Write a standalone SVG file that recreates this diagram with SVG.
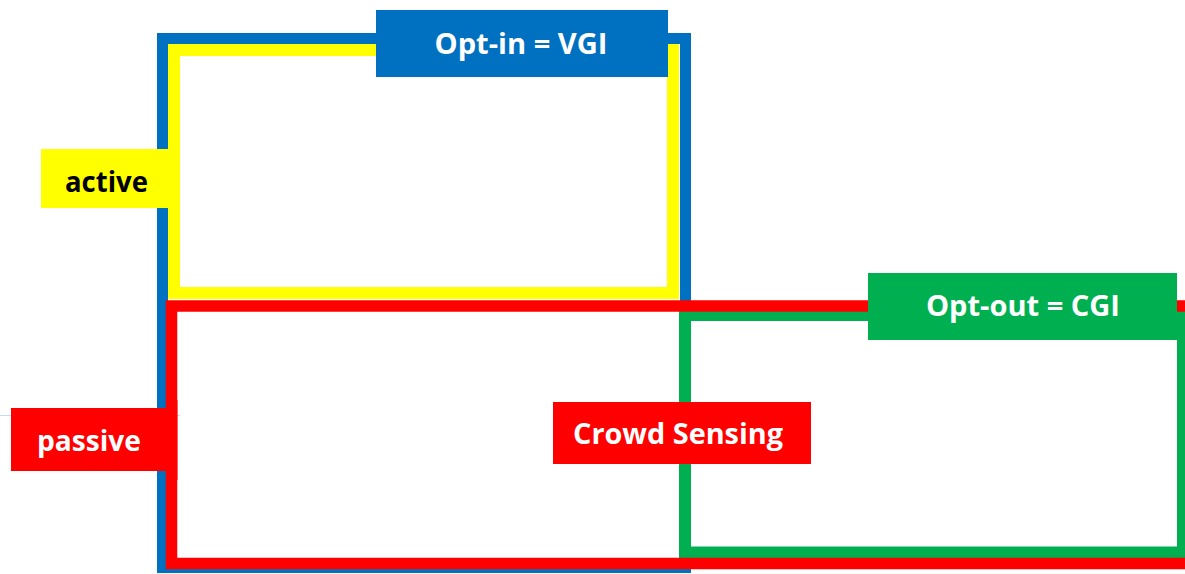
<svg xmlns="http://www.w3.org/2000/svg" width="1185" height="574" viewBox="0 0 1185 574">
  <style>
    .frame { fill: none; }
    .lbl { font-family: "Open Sans", "Liberation Sans", sans-serif; font-weight: bold; font-size: 28px; text-anchor: middle; }
    .w { fill: #FFFFFF; }
    .k { fill: #000000; }
  </style>
  <rect x="0" y="0" width="1185" height="574" fill="#FFFFFF"/>
  <line x1="0" y1="415.5" x2="180" y2="415.5" stroke="#C5DCF0" stroke-width="1"/>
  <g id="optin-frame">
    <rect class="frame" x="162.5" y="38.5" width="523" height="529" stroke="#0070C0" stroke-width="11"/>
  </g>
  <g id="active-frame">
    <rect class="frame" x="174" y="50" width="499" height="243" stroke="#FFFF00" stroke-width="12"/>
  </g>
  <g id="optout-frame">
    <rect class="frame" x="685" y="315" width="498" height="237.5" stroke="#00B050" stroke-width="12"/>
  </g>
  <g id="passive-frame">
    <rect class="frame" x="171.5" y="306" width="1030" height="257.5" stroke="#FF0000" stroke-width="11.5"/>
  </g>
  <g id="connectors"></g>
  <g id="optin-label">
    <rect x="376" y="10" width="292" height="67" fill="#0070C0"/>
    <text class="lbl w" x="521" y="54" textLength="173" lengthAdjust="spacingAndGlyphs">Opt-in = VGI</text>
  </g>
  <g id="active-label">
    <rect x="41" y="149" width="127" height="59" fill="#FFFF00"/>
    <text class="lbl k" x="106.5" y="192" textLength="83" lengthAdjust="spacingAndGlyphs">active</text>
  </g>
  <g id="passive-label">
    <rect x="11" y="408" width="160" height="63" fill="#FF0000"/>
    <text class="lbl w" x="89" y="451" textLength="104" lengthAdjust="spacingAndGlyphs">passive</text>
  </g>
  <rect x="166" y="400" width="11.5" height="80" fill="#FF0000"/>
  <g id="crowd-sensing-label">
    <rect x="553" y="402" width="258" height="62" fill="#FF0000"/>
    <text class="lbl w" x="678" y="444" textLength="210" lengthAdjust="spacingAndGlyphs">Crowd Sensing</text>
  </g>
  <g id="optout-label">
    <rect x="868" y="273" width="309" height="67" fill="#00B050"/>
    <text class="lbl w" x="1023" y="316" textLength="194" lengthAdjust="spacingAndGlyphs">Opt-out = CGI</text>
  </g>
</svg>
